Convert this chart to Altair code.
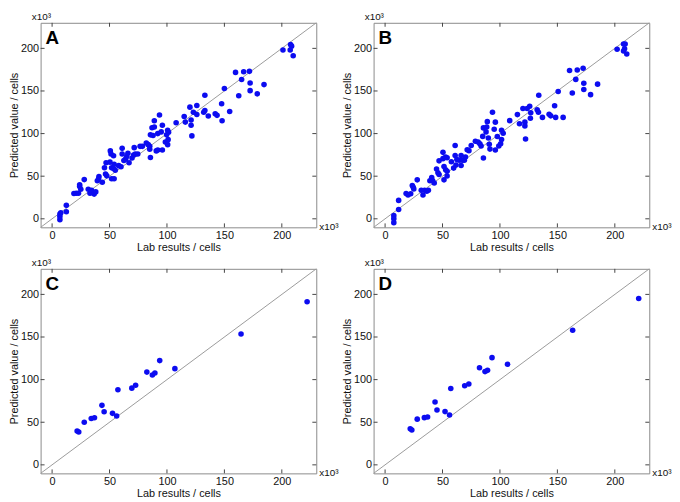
import altair as alt
import pandas as pd

# ---------------- data (x = lab results, y = predicted value), in 10^3 cells
A_lab = [6.8, 6.8, 6.8, 7.6, 12.4, 12.4, 19, 21, 23, 24, 24, 25, 28,
         31.5, 33, 34.4, 36.6, 38, 39.4, 40.8, 40.5, 43.7, 45.6, 47, 46.5, 47.6,
         50.4, 50.7, 51.3, 51.8, 51.8, 53.5, 53.5, 54, 54, 55,
         58, 60, 61, 61, 62.5, 64, 65, 66, 67,
         69.6, 71, 71.5, 72.4, 74.6,
         76.6, 78.6, 82, 83.7, 85, 85, 85.6,
         85.6, 87, 87.9, 89, 89, 90.7, 92, 92, 93.5, 95, 96, 96,
         98.6, 100.6, 101, 99.7, 101.4, 100.6, 108, 115, 116,
         120, 121, 121, 121.7, 123, 126, 126,
         132, 133, 133, 136, 142, 143.6, 147.6, 148, 150, 154.6,
         159.7, 162.5, 165, 166.8, 171.8, 172.4, 172.4, 178.6, 184.5,
         201, 207.6, 208.5, 207.3, 209.9]
A_pred = [-1, 2.6, 5.6, 7, 15.8, 8.3, 29.7, 30, 30, 40, 38, 34.6, 46,
          34.6, 30, 33.5, 29, 31.6, 44.7, 49.6, 47, 42.9, 60, 65.8, 52.6, 50.4,
          66.5, 79.7, 76, 60, 47, 59, 74, 47, 64, 57,
          62.4, 61, 82.7, 76, 68.4, 70, 73, 77, 65.8,
          71.4, 74.8, 83.5, 76, 76,
          85, 85, 89, 87, 85, 81.6, 72,
          98.5, 106.8, 97.7, 115, 107.7, 79.7, 80.8, 100, 121.8, 102, 109.8, 80.8,
          90, 87, 92.9, 98.5, 101.5, 104, 112.8, 120, 113.5,
          131, 116, 109.8, 97.3, 125, 133, 122.4,
          125, 127, 145, 120.7, 123.3, 121.4, 135, 115, 153, 126,
          171.8, 144.4, 163.5, 172.6, 173, 159.4, 150.4, 146.6, 157.5,
          198, 204.5, 202.6, 198, 191.4]

B_lab = [7.6, 7.6, 7.6, 11.8, 11.8, 18.3, 20, 22.3, 23.7, 24.5, 25, 28,
         31.5, 33, 34.4, 36.3, 37.7, 39, 40.6, 41.4, 42.8, 44.8, 46, 47, 47,
         50.4, 50.4, 51.3, 51.3, 52.7, 52.7, 54, 54, 54,
         57.7, 59.7, 61, 61, 61.7, 62.5, 64.5, 66.2, 66.2, 67.3, 69, 70, 71.5, 73, 75,
         78.6, 81, 82.5, 83.6, 85.6, 85, 85.6, 87.9, 88.5, 89, 89.9, 90.7, 91.3,
         93.5, 95, 96, 96, 97.7, 99, 100.6, 101.4, 101.4, 102.8,
         108.5,
         115.2, 117, 120, 121.7, 121.7, 122.3, 123.7, 125.9, 126.8, 126.5,
         132.4, 133.5, 133.8, 137,
         142.8, 144.2, 147.6, 148.5, 150.7, 155,
         160.6, 163, 166, 167.3, 172.4, 173, 173, 178.9, 185,
         202, 207.6, 209, 208.5, 207.6, 210.4]
B_pred = [3.7, 0, -4.5, 21.6, 11, 29.7, 27.9, 29.4, 39, 37, 35, 45.7,
          33.5, 28, 33.5, 32.3, 33.5, 44.6, 48.3, 44.6, 42, 58.4, 54, 68, 52,
          78, 70.6, 61.3, 45.7, 72.5, 57.6, 71.7, 50.2, 55.8,
          67, 59.5, 86, 74.3, 63, 69.5, 68.8, 62.5, 74.3, 68.8, 68.8, 72.5, 81, 80, 86,
          91, 90, 88, 85.5, 71.4, 96.7, 106.7, 102, 107.8, 114, 94.8, 87.4, 81.8,
          125, 105, 113.4, 80.7, 96.6, 85.5, 88, 93, 104, 100.4,
          115.2,
          122.3, 111.5, 129.4, 113.4, 109, 93.7, 129.4, 132, 124.5, 118,
          128, 125, 145, 119,
          122.6, 120.8, 132.7, 119, 149.4, 119,
          174, 147.6, 163.6, 174.7, 176.6, 159, 151.7, 145.7, 158,
          198.9, 205, 205, 199.6, 197, 193.3]

C_lab = [21.8, 23.2, 28, 34.1, 36.9, 43.4, 45.3, 52.6, 56.2, 57.3,
         69.4, 72.7, 82.5, 87.3, 89.5, 93.7, 106.9, 164.5, 222]
C_pred = [39.8, 38.6, 49.9, 54.4, 55.2, 69.8, 62.3, 60.4, 57.4, 88.2,
          90, 93.4, 108.8, 105.4, 107.7, 122.3, 112.9, 153.5, 191.4]

D_lab = [21.9, 23.3, 28, 34.2, 37, 43.5, 45.2, 52.2, 56.1, 57.2,
         69.3, 72.9, 82.2, 87, 89.2, 93.1, 106.6, 163.3, 220.8]
D_pred = [42.3, 40.8, 53.6, 55.4, 56.2, 73.8, 64.4, 62.5, 58.4, 89.5,
          92.9, 94.8, 113.9, 109.4, 110.9, 125.8, 118, 158, 195.1]

TICKS = [0, 50, 100, 150, 200]
DOMAIN = [-10, 230]
IDENTITY = [-10, 230]
X_TITLE = "Lab results / cells"
Y_TITLE = "Predicted value / cells"
EXP = "x10³"

# ---------------- styling
W, H = 279, 207
BLUE = "#0c0cf0"
FONT = "Liberation Sans"


def panel(letter, xs, ys):
    xsc = alt.Scale(domain=DOMAIN, nice=False, zero=False)
    ysc = alt.Scale(domain=DOMAIN, nice=False, zero=False)
    pts = pd.DataFrame({"lab": xs, "pred": ys})
    diag = pd.DataFrame({"lab": IDENTITY, "pred": IDENTITY})
    tdf = pd.DataFrame({"lab": TICKS, "pred": TICKS})
    one = pd.DataFrame({"a": [0]})

    xaxis = alt.Axis(values=TICKS, title=X_TITLE)
    yaxis = alt.Axis(values=TICKS, title=Y_TITLE)
    X = alt.X("lab:Q", scale=xsc, axis=xaxis)
    Y = alt.Y("pred:Q", scale=ysc, axis=yaxis)

    line = alt.Chart(diag).mark_line(color="#9a9a9a", strokeWidth=1).encode(x=X, y=Y)
    points = alt.Chart(pts).mark_circle(size=32, color=BLUE, opacity=1).encode(x=X, y=Y)

    tick_style = dict(color="#444", strokeWidth=1)
    t_bottom = alt.Chart(tdf).mark_rule(**tick_style).encode(
        x=X, y=alt.value(H), y2=alt.value(H - 4))
    t_top = alt.Chart(tdf).mark_rule(**tick_style).encode(
        x=X, y=alt.value(0), y2=alt.value(4))
    t_left = alt.Chart(tdf).mark_rule(**tick_style).encode(
        y=Y, x=alt.value(0), x2=alt.value(4))
    t_right = alt.Chart(tdf).mark_rule(**tick_style).encode(
        y=Y, x=alt.value(W), x2=alt.value(W - 4))

    exp_top = alt.Chart(one).mark_text(
        text=EXP, align="left", baseline="alphabetic", fontSize=10, font=FONT, color="#111"
    ).encode(x=alt.value(-9), y=alt.value(-3))
    exp_right = alt.Chart(one).mark_text(
        text=EXP, align="left", baseline="alphabetic", fontSize=10, font=FONT, color="#111"
    ).encode(x=alt.value(W + 3), y=alt.value(H + 3))
    lab = alt.Chart(one).mark_text(
        text=letter, align="left", baseline="top", fontSize=19, fontWeight="bold",
        font=FONT, color="#000"
    ).encode(x=alt.value(5), y=alt.value(6))

    return alt.layer(line, points, t_bottom, t_top, t_left, t_right,
                     exp_top, exp_right, lab).properties(width=W, height=H)


top_row = alt.hconcat(panel("A", A_lab, A_pred), panel("B", B_lab, B_pred), spacing=2)
bot_row = alt.hconcat(panel("C", C_lab, C_pred), panel("D", D_lab, D_pred), spacing=2)

chart = alt.vconcat(top_row, bot_row, spacing=4).properties(
    padding=0
).configure_view(
    stroke="#8a8a8a", strokeWidth=1
).configure_axis(
    grid=False, ticks=False, domain=False,
    labelFont=FONT, titleFont=FONT, labelFontSize=11, titleFontSize=11,
    titleFontWeight="normal", labelColor="#111", titleColor="#111",
    labelPadding=2, titlePadding=1,
)

chart.save("out.html", embed_options={"renderer": "svg", "actions": False})
